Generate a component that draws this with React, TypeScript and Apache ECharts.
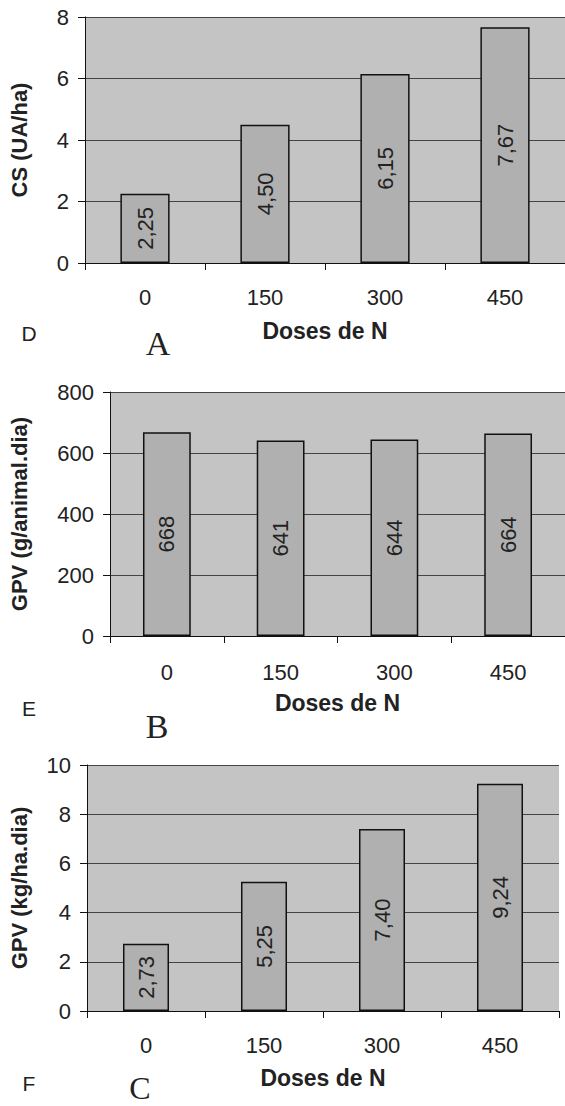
import React, { useEffect, useRef } from "react";
import * as echarts from "echarts";

const categories = ["0", "150", "300", "450"];
const csValues = [2.25, 4.5, 6.15, 7.67];
const gpvAnimalValues = [668, 641, 644, 664];
const gpvHaValues = [2.73, 5.25, 7.4, 9.24];

const FONT = "'Liberation Sans', Arial, sans-serif";
const SERIF = "'Liberation Serif', 'Times New Roman', serif";
const TXT = "#222";

function comma(v: number) {
  return v.toFixed(2).replace(".", ",");
}

export default function App() {
  const ref = useRef<HTMLDivElement>(null);
  useEffect(() => {
    if (!ref.current) return;
    const chart = echarts.init(ref.current, undefined, { renderer: "svg" });
    const grids = [
      { left: 85, top: 17, width: 483, height: 246 },
      { left: 110, top: 392, width: 458, height: 244 },
      { left: 87, top: 765, width: 472, height: 246 },
    ];
    const yDefs = [
      { max: 8, interval: 2, name: "CS (UA/ha)", gap: 55 },
      { max: 800, interval: 200, name: "GPV (g/animal.dia)", gap: 80 },
      { max: 10, interval: 2, name: "GPV (kg/ha.dia)", gap: 57 },
    ];
    const labelMargins = [23, 25, 23];
    const nameGaps = [56, 55, 55];
    const barWidths = ["41%", "42%", "39%"];
    const seriesData = [csValues, gpvAnimalValues, gpvHaValues];
    const formatters = [
      (p: any) => comma(p.value),
      (p: any) => String(p.value),
      (p: any) => comma(p.value),
    ];

    chart.setOption({
      animation: false,
      grid: grids.map((g) => ({
        ...g,
        show: true,
        backgroundColor: "#c4c4c4",
        borderWidth: 0,
      })),
      xAxis: grids.map((_, i) => ({
        type: "category",
        gridIndex: i,
        data: categories,
        name: "Doses de N",
        nameLocation: "middle",
        nameGap: nameGaps[i],
        nameTextStyle: { fontFamily: FONT, fontSize: 23, fontWeight: "bold", color: TXT },
        axisLine: { show: true, lineStyle: { color: "#111", width: 1 } },
        axisTick: { show: true, length: 7, lineStyle: { color: "#111" } },
        axisLabel: { fontFamily: FONT, fontSize: 22, color: TXT, margin: labelMargins[i] },
        splitLine: { show: false },
      })),
      yAxis: yDefs.map((y, i) => ({
        type: "value",
        gridIndex: i,
        min: 0,
        max: y.max,
        interval: y.interval,
        name: y.name,
        nameLocation: "middle",
        nameGap: y.gap,
        nameTextStyle: { fontFamily: FONT, fontSize: 22, fontWeight: "bold", color: TXT },
        axisLine: { show: true, lineStyle: { color: "#111", width: 1 } },
        axisTick: { show: true, length: 7, lineStyle: { color: "#111" } },
        axisLabel: { fontFamily: FONT, fontSize: 22, color: TXT, margin: 16 },
        splitLine: { show: true, lineStyle: { color: "#444", width: 1 } },
      })),
      series: seriesData.map((d, i) => ({
        type: "bar",
        xAxisIndex: i,
        yAxisIndex: i,
        data: d,
        barWidth: barWidths[i],
        itemStyle: { color: "#b0b0b0", borderColor: "#111", borderWidth: 1.5 },
        label: {
          show: true,
          position: "inside",
          rotate: 90,
          fontFamily: FONT,
          fontSize: 22,
          color: TXT,
          formatter: formatters[i],
        },
      })),
      graphic: [
        { type: "text", x: 29, y: 333, style: { text: "D", font: `21px ${FONT}`, fill: TXT, textAlign: "center", textVerticalAlign: "middle" } },
        { type: "text", x: 29, y: 708, style: { text: "E", font: `21px ${FONT}`, fill: TXT, textAlign: "center", textVerticalAlign: "middle" } },
        { type: "text", x: 29, y: 1083, style: { text: "F", font: `21px ${FONT}`, fill: TXT, textAlign: "center", textVerticalAlign: "middle" } },
        { type: "text", x: 158, y: 343, style: { text: "A", font: `34px ${SERIF}`, fill: TXT, textAlign: "center", textVerticalAlign: "middle" } },
        { type: "text", x: 157, y: 726, style: { text: "B", font: `34px ${SERIF}`, fill: TXT, textAlign: "center", textVerticalAlign: "middle" } },
        { type: "text", x: 140, y: 1088, style: { text: "C", font: `32px ${SERIF}`, fill: TXT, textAlign: "center", textVerticalAlign: "middle" } },
      ],
    });
    return () => chart.dispose();
  }, []);
  return (
    <div
      ref={ref}
      style={{ position: "absolute", left: 0, top: 0, width: 565, height: 1106, background: "#fff" }}
    />
  );
}
